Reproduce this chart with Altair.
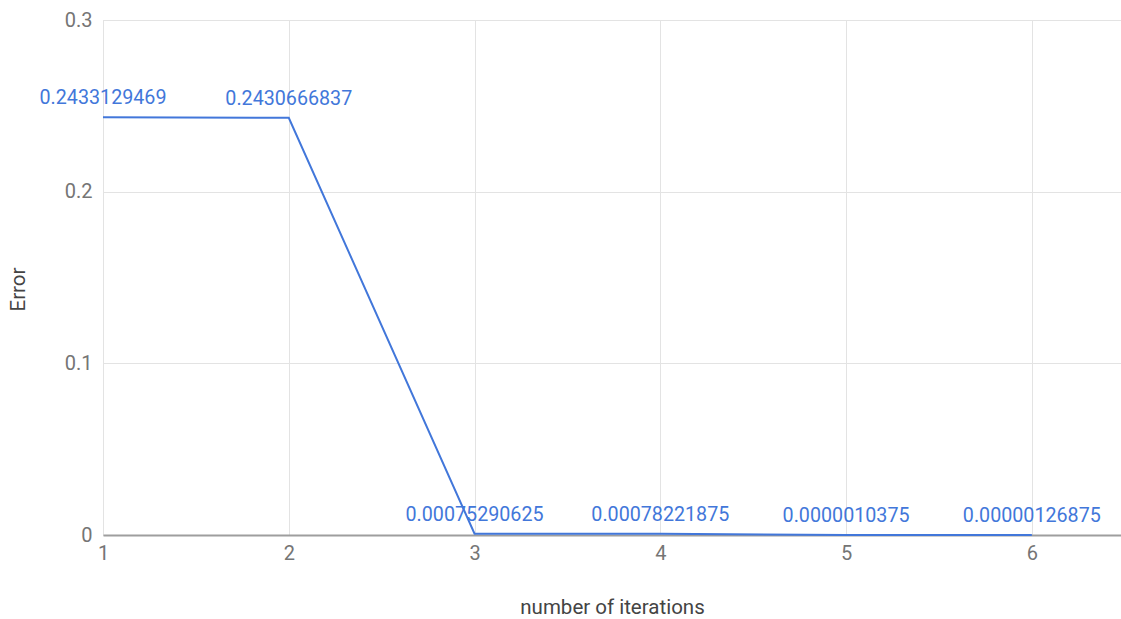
import altair as alt
import pandas as pd

# Error per iteration
iterations = [1, 2, 3, 4, 5, 6]
errors = [0.2433129469, 0.2430666837, 0.00075290625, 0.00078221875, 0.0000010375, 0.00000126875]
labels = ["0.2433129469", "0.2430666837", "0.00075290625", "0.00078221875", "0.0000010375", "0.00000126875"]

df = pd.DataFrame({"iter": iterations, "err": errors, "label": labels})

BLUE = "#4277DA"
FONT = "Roboto"

x = alt.X(
    "iter:Q",
    scale=alt.Scale(domain=[1, 6.48], nice=False, zero=False),
    axis=alt.Axis(
        title="number of iterations",
        values=[1, 2, 3, 4, 5, 6],
        format="d",
        grid=True,
        gridColor="#e3e3e3",
        domain=True,
        domainColor="#9e9e9e",
        domainWidth=2,
        ticks=False,
        labelFlush=False,
        labelPadding=8,
        labelFontSize=20,
        labelColor="#757575",
        labelFont=FONT,
        titleFont=FONT,
        titleFontSize=20.5,
        titleFontWeight="normal",
        titleColor="#444444",
        titleBaseline="middle",
        titleY=72,
    ),
)

y = alt.Y(
    "err:Q",
    scale=alt.Scale(domain=[0, 0.3], nice=False),
    axis=alt.Axis(
        title="Error",
        values=[0, 0.1, 0.2, 0.3],
        format="~g",
        grid=True,
        gridColor="#e3e3e3",
        domain=False,
        ticks=False,
        labelFlush=False,
        labelPadding=11,
        labelFontSize=20,
        labelColor="#757575",
        labelFont=FONT,
        titleFont=FONT,
        titleFontSize=20.5,
        titleFontWeight="normal",
        titleColor="#444444",
        titleAngle=-90,
        titleAlign="center",
        titleBaseline="middle",
        titleX=-85,
        titleY=269,
    ),
)

line = alt.Chart(df).mark_line(color=BLUE, strokeWidth=2).encode(x=x, y=y)

text = alt.Chart(df).mark_text(
    color=BLUE, font=FONT, fontSize=19.7, align="center", baseline="alphabetic", dy=-13
).encode(x="iter:Q", y="err:Q", text="label:N")

chart = (
    alt.layer(line, text)
    .properties(
        width=1018,
        height=515,
        autosize=alt.AutoSizeParams(type="none"),
        padding={"left": 103, "top": 20, "right": 0, "bottom": 84},
    )
    .configure_view(stroke=None)
    .configure(background="white")
)

chart.save("out.html", embed_options={"renderer": "svg", "actions": False})
